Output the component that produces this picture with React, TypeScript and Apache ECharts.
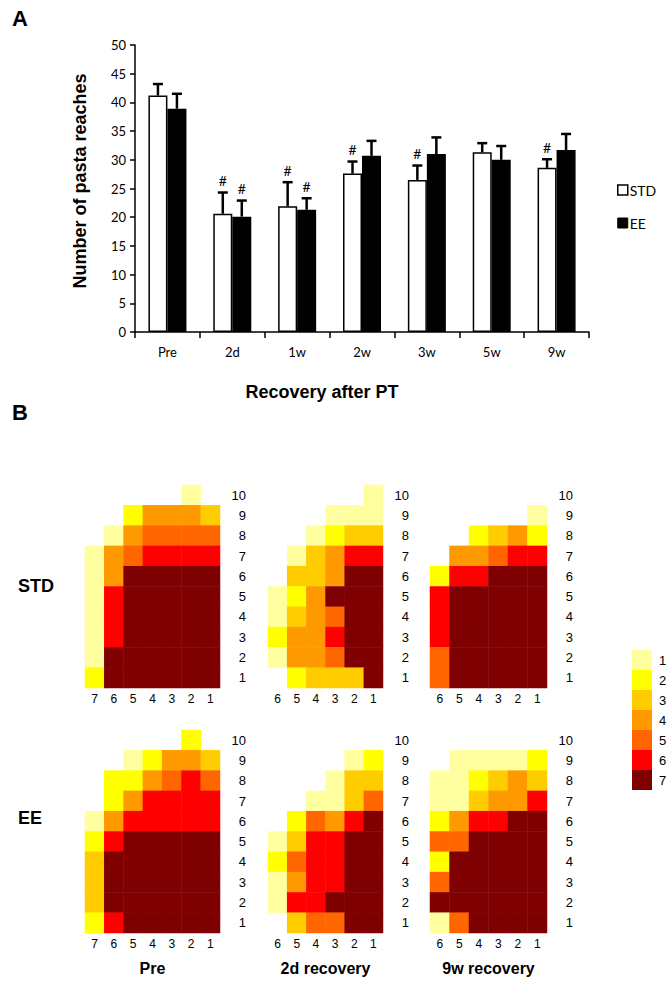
import React, { useEffect, useRef } from 'react';
import * as echarts from 'echarts';

// ---------- Panel A data ----------
const categories = ['Pre', '2d', '1w', '2w', '3w', '5w', '9w'];
const stdMean = [41.2, 20.6, 21.9, 27.6, 26.5, 31.3, 28.6];
const stdErr = [2.0, 3.7, 4.2, 2.1, 2.5, 1.6, 1.5];
const eeMean = [38.9, 20.1, 21.3, 30.7, 31.0, 30.0, 31.7];
const eeErr = [2.6, 2.8, 2.0, 2.6, 2.9, 2.4, 2.8];
const stdSig = [0, 1, 1, 1, 1, 0, 1];
const eeSig = [0, 1, 1, 0, 0, 0, 0];
const yTicks = { min: 0, max: 50, interval: 5 };

// ---------- Panel B data (rows 10 -> 1, columns left -> right, 0 = empty) ----------
const colsPre = ['7', '6', '5', '4', '3', '2', '1'];
const colsRec = ['6', '5', '4', '3', '2', '1'];
const rowLabels = ['1', '2', '3', '4', '5', '6', '7', '8', '9', '10'];
const levels = [1, 2, 3, 4, 5, 6, 7];
const levelColors = ['#FFFFA0', '#FFFF00', '#FFCC00', '#FF9900', '#FF6600', '#FF0000', '#7F0000'];

const stdPre = [
  [0, 0, 0, 0, 0, 1, 0],
  [0, 0, 2, 4, 4, 4, 3],
  [0, 1, 4, 5, 5, 5, 5],
  [1, 4, 5, 6, 6, 6, 6],
  [1, 4, 7, 7, 7, 7, 7],
  [1, 6, 7, 7, 7, 7, 7],
  [1, 6, 7, 7, 7, 7, 7],
  [1, 6, 7, 7, 7, 7, 7],
  [1, 7, 7, 7, 7, 7, 7],
  [2, 7, 7, 7, 7, 7, 7],
];
const std2d = [
  [0, 0, 0, 0, 0, 1],
  [0, 0, 0, 1, 1, 1],
  [0, 0, 1, 2, 3, 3],
  [0, 1, 3, 4, 6, 6],
  [0, 3, 3, 4, 7, 7],
  [1, 2, 4, 7, 7, 7],
  [1, 3, 4, 5, 7, 7],
  [2, 4, 4, 6, 7, 7],
  [1, 4, 4, 5, 7, 7],
  [0, 2, 3, 3, 3, 7],
];
const std9w = [
  [0, 0, 0, 0, 0, 0],
  [0, 0, 0, 0, 0, 1],
  [0, 0, 2, 3, 4, 2],
  [0, 4, 4, 5, 6, 6],
  [2, 6, 6, 7, 7, 7],
  [6, 7, 7, 7, 7, 7],
  [6, 7, 7, 7, 7, 7],
  [6, 7, 7, 7, 7, 7],
  [5, 7, 7, 7, 7, 7],
  [5, 7, 7, 7, 7, 7],
];
const eePre = [
  [0, 0, 0, 0, 0, 2, 0],
  [0, 0, 1, 2, 4, 4, 3],
  [0, 2, 2, 4, 5, 6, 5],
  [0, 2, 4, 6, 6, 6, 6],
  [1, 4, 6, 6, 6, 6, 6],
  [2, 6, 7, 7, 7, 7, 7],
  [3, 7, 7, 7, 7, 7, 7],
  [3, 7, 7, 7, 7, 7, 7],
  [3, 7, 7, 7, 7, 7, 7],
  [2, 6, 7, 7, 7, 7, 7],
];
const ee2d = [
  [0, 0, 0, 0, 0, 0],
  [0, 0, 0, 0, 1, 2],
  [0, 0, 0, 1, 3, 3],
  [0, 0, 1, 1, 3, 5],
  [0, 2, 5, 4, 6, 7],
  [1, 3, 6, 6, 7, 7],
  [2, 5, 6, 6, 7, 7],
  [1, 4, 6, 6, 7, 7],
  [1, 6, 6, 7, 7, 7],
  [0, 3, 5, 5, 7, 7],
];
const ee9w = [
  [0, 0, 0, 0, 0, 0],
  [0, 1, 1, 1, 1, 2],
  [1, 1, 2, 3, 4, 3],
  [1, 1, 3, 4, 4, 6],
  [2, 4, 6, 6, 7, 7],
  [5, 5, 7, 7, 7, 7],
  [2, 7, 7, 7, 7, 7],
  [5, 7, 7, 7, 7, 7],
  [7, 7, 7, 7, 7, 7],
  [1, 5, 7, 7, 7, 7],
];

const panels = [
  { m: stdPre, cols: colsPre },
  { m: std2d, cols: colsRec },
  { m: std9w, cols: colsRec },
  { m: eePre, cols: colsPre },
  { m: ee2d, cols: colsRec },
  { m: ee9w, cols: colsRec },
];
const panelTitles = ['Pre', '2d recovery', '9w recovery'];
const rowTitles = ['STD', 'EE'];

const toCells = (m: number[][]) => {
  const out: number[][] = [];
  m.forEach((row, r) => {
    row.forEach((v, c) => {
      if (v > 0) out.push([c, 9 - r, v]);
    });
  });
  return out;
};

const ARIAL = '"Liberation Sans", Arial, sans-serif';
const CAL = 'Lato, "Open Sans", sans-serif';
const BAR_W = 19;

const txt = (text: string, x: number, y: number, size: number, bold: boolean, align = 'left', va = 'middle', rotation = 0, family = ARIAL) => ({
  type: 'text',
  x,
  y,
  rotation,
  silent: true,
  style: {
    text,
    fill: '#000',
    fontSize: size,
    fontWeight: bold ? 'bold' : 'normal',
    fontFamily: family,
    align,
    verticalAlign: va,
    textAlign: align,
    textVerticalAlign: va,
  },
});

export default function App() {
  const ref = useRef<HTMLDivElement>(null);
  useEffect(() => {
    const chart = echarts.init(ref.current!, null, { renderer: 'svg' });

    const hmLefts = [85, 268, 430];
    const hmWidths = [135, 115, 117];
    const hmTops = [485, 730];
    const hmHeight = 203;

    const grids: any[] = [{ left: 135, top: 45, width: 454, height: 287, outerBoundsMode: 'none' }];
    const xAxes: any[] = [
      {
        type: 'category',
        gridIndex: 0,
        data: categories,
        axisLine: { lineStyle: { color: '#000', width: 1.5 } },
        axisTick: { show: true, interval: 0, alignWithLabel: false, length: 6, lineStyle: { color: '#000', width: 1.5 } },
        axisLabel: { interval: 0, margin: 13, fontSize: 13, fontFamily: CAL, color: '#000' },
        splitLine: { show: false },
      },
    ];
    const yAxes: any[] = [
      {
        type: 'value',
        gridIndex: 0,
        min: yTicks.min,
        max: yTicks.max,
        interval: yTicks.interval,
        axisLine: { show: true, lineStyle: { color: '#000', width: 1.5 } },
        axisTick: { show: true, length: 5, lineStyle: { color: '#000', width: 1.5 } },
        axisLabel: { margin: 9, fontSize: 13, fontFamily: CAL, color: '#000' },
        splitLine: { show: false },
      },
    ];
    const series: any[] = [
      {
        type: 'bar',
        name: 'STD',
        xAxisIndex: 0,
        yAxisIndex: 0,
        data: stdMean,
        barWidth: BAR_W,
        barGap: '0%',
        itemStyle: { color: '#fff', borderColor: '#000', borderWidth: 1.5 },
        emphasis: { disabled: true },
      },
      {
        type: 'bar',
        name: 'EE',
        xAxisIndex: 0,
        yAxisIndex: 0,
        data: eeMean,
        barWidth: BAR_W,
        barGap: '0%',
        itemStyle: { color: '#000', borderColor: '#000', borderWidth: 1.5 },
        emphasis: { disabled: true },
      },
    ];

    const errSeries = (mean: number[], err: number[], sig: number[], off: number) => ({
      type: 'custom',
      xAxisIndex: 0,
      yAxisIndex: 0,
      z: 10,
      silent: true,
      encode: { x: 0, y: 1 },
      data: mean.map((v, i) => [i, v, err[i], sig[i]]),
      renderItem: (params: any, api: any) => {
        const i = api.value(0);
        const m = api.value(1);
        const e = api.value(2);
        const s = api.value(3);
        const p0 = api.coord([i, m]);
        const p1 = api.coord([i, m + e]);
        const x = p0[0] + off;
        const children: any[] = [
          { type: 'line', shape: { x1: x, y1: p0[1], x2: x, y2: p1[1] }, style: { stroke: '#000', lineWidth: 2.5 } },
          { type: 'line', shape: { x1: x - 5, y1: p1[1], x2: x + 5, y2: p1[1] }, style: { stroke: '#000', lineWidth: 2.5 } },
        ];
        if (s) {
          children.push({
            type: 'text',
            x,
            y: p1[1] - 5,
            style: { text: '#', fill: '#000', fontSize: 14, fontFamily: CAL, align: 'center', verticalAlign: 'bottom', textAlign: 'center', textVerticalAlign: 'bottom' },
          });
        }
        return { type: 'group', children };
      },
    });
    series.push(errSeries(stdMean, stdErr, stdSig, -BAR_W / 2));
    series.push(errSeries(eeMean, eeErr, eeSig, BAR_W / 2));

    const hmSeriesIdx: number[] = [];
    panels.forEach((p, k) => {
      const gi = k + 1;
      const col = k % 3;
      const row = Math.floor(k / 3);
      grids.push({ left: hmLefts[col], top: hmTops[row], width: hmWidths[col], height: hmHeight, outerBoundsMode: 'none' });
      xAxes.push({
        type: 'category',
        gridIndex: gi,
        data: p.cols,
        axisLine: { show: false },
        axisTick: { show: false },
        splitLine: { show: false },
        axisLabel: { margin: 5, fontSize: 12, fontFamily: ARIAL, color: '#000', interval: 0 },
      });
      yAxes.push({
        type: 'category',
        gridIndex: gi,
        position: 'right',
        data: rowLabels,
        axisLine: { show: false },
        axisTick: { show: false },
        splitLine: { show: false },
        axisLabel: { align: 'right', margin: 26, fontSize: 13, fontFamily: ARIAL, color: '#000', interval: 0 },
      });
      hmSeriesIdx.push(series.length);
      series.push({
        type: 'heatmap',
        xAxisIndex: gi,
        yAxisIndex: gi,
        data: toCells(p.m),
        itemStyle: { borderWidth: 0 },
        emphasis: { disabled: true },
        silent: true,
      });
    });

    const option: any = {
      animation: false,
      backgroundColor: '#fff',
      grid: grids,
      xAxis: xAxes,
      yAxis: yAxes,
      series,
      legend: {
        orient: 'vertical',
        left: 612,
        top: 178,
        itemWidth: 10,
        itemHeight: 10,
        itemGap: 19,
        icon: 'rect',
        selectedMode: false,
        textStyle: { fontSize: 14, fontFamily: CAL, color: '#000', padding: [0, 0, 0, -3] },
        data: [
          { name: 'STD', itemStyle: { color: '#fff', borderColor: '#000', borderWidth: 1.5 } },
          { name: 'EE', itemStyle: { color: '#000', borderColor: '#000', borderWidth: 1 } },
        ],
      },
      visualMap: {
        type: 'piecewise',
        seriesIndex: hmSeriesIdx,
        orient: 'vertical',
        inverse: true,
        left: 617,
        top: 635,
        itemWidth: 20,
        itemHeight: 20,
        itemGap: 0,
        itemSymbol: 'rect',
        align: 'left',
        textGap: 7,
        selectedMode: false,
        textStyle: { fontSize: 13, fontFamily: ARIAL, color: '#000' },
        pieces: levels.map((v, i) => ({ value: v, color: levelColors[i], label: String(v) })),
      },
      graphic: [
        txt('A', 12, 18, 22, true),
        txt('B', 12, 412, 22, true),
        txt('Number of pasta reaches', 80, 181, 18, true, 'center', 'middle', Math.PI / 2),
        txt('Recovery after PT', 322, 392, 18, true, 'center'),
        txt(rowTitles[0], 18, 586, 18, true),
        txt(rowTitles[1], 18, 818, 18, true),
        ...panelTitles.map((t, i) => txt(t, hmLefts[i] + hmWidths[i] / 2, 968, 16, true, 'center')),
      ],
    };
    chart.setOption(option);
    return () => chart.dispose();
  }, []);
  return <div ref={ref} style={{ position: 'absolute', left: 0, top: 0, width: 672, height: 1000 }} />;
}
